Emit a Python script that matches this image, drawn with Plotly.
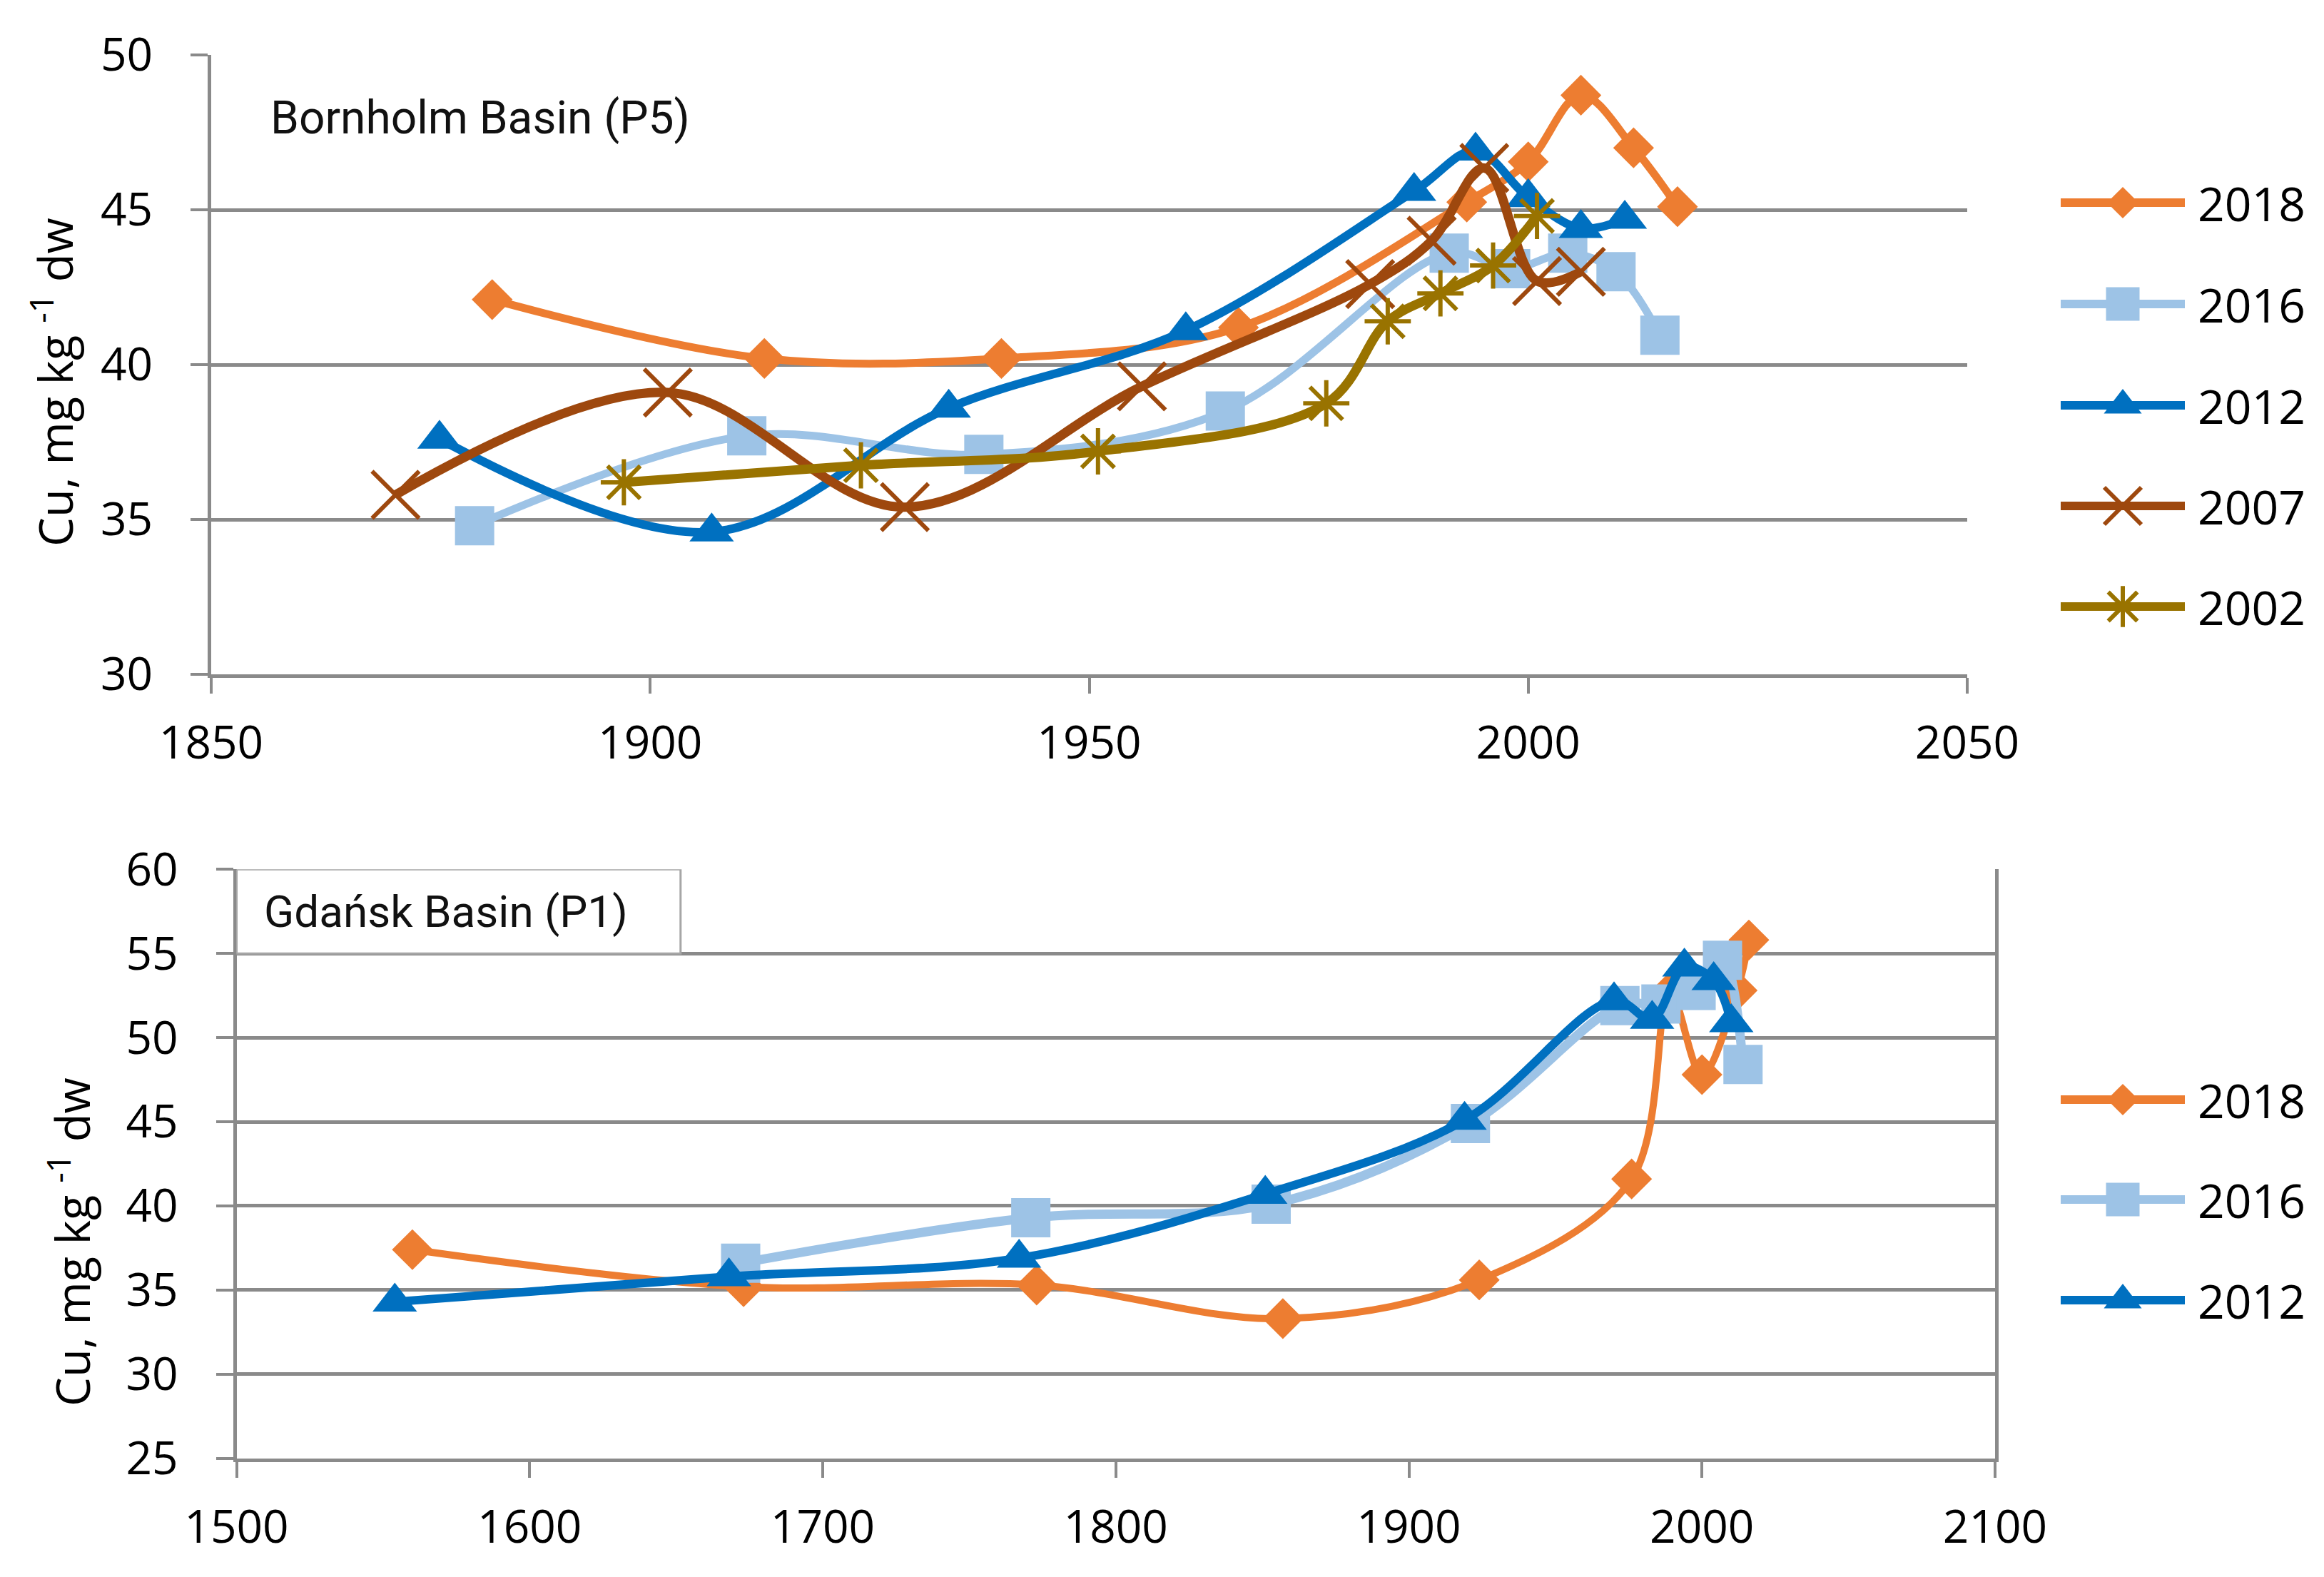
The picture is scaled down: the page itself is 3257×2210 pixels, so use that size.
import plotly.graph_objects as go

W, H = 3257, 2210

# ---------------- Data: Bornholm Basin (P5) ----------------
bb_2018_x = [1882, 1913, 1940, 1967, 1993, 2000, 2006, 2012, 2017]
bb_2018_y = [42.1, 40.2, 40.2, 41.2, 45.25, 46.55, 48.7, 47.0, 45.1]
bb_2016_x = [1880, 1911, 1938, 1965.5, 1991, 1998, 2004.5, 2010, 2015]
bb_2016_y = [34.8, 37.7, 37.1, 38.5, 43.6, 43.1, 43.6, 43.0, 40.95]
bb_2012_x = [1876, 1907, 1934, 1961, 1987, 1994, 2000, 2006, 2011]
bb_2012_y = [37.6, 34.6, 38.6, 41.1, 45.6, 46.9, 45.4, 44.4, 44.7]
bb_2007_x = [1871, 1902, 1929, 1956, 1982, 1989, 1995, 2001, 2006]
bb_2007_y = [35.8, 39.1, 35.4, 39.3, 42.6, 44.0, 46.35, 42.7, 43.0]
bb_2002_x = [1897, 1924, 1951, 1977, 1984, 1990, 1996, 2001]
bb_2002_y = [36.2, 36.75, 37.2, 38.75, 41.4, 42.3, 43.2, 44.8]

# ---------------- Data: Gdańsk Basin (P1) ----------------
gb_2018_x = [1560, 1673, 1773, 1857, 1924, 1976, 1989, 2000, 2012, 2016]
gb_2018_y = [37.4, 35.2, 35.3, 33.3, 35.6, 41.6, 52.7, 47.8, 52.8, 55.8]
gb_2016_x = [1672, 1771, 1853, 1921, 1972, 1986, 1998, 2007, 2014]
gb_2016_y = [36.6, 39.3, 40.1, 44.9, 51.9, 52.0, 52.8, 54.6, 48.4]
gb_2012_x = [1554, 1668, 1767, 1851, 1919, 1970, 1983, 1994, 2004, 2010]
gb_2012_y = [34.3, 35.8, 36.9, 40.7, 45.1, 52.2, 51.1, 54.2, 53.4, 50.9]

top_names = ["2018", "2016", "2012", "2007", "2002"]
bot_names = ["2018", "2016", "2012"]

top_xticks = [1850, 1900, 1950, 2000, 2050]
top_yticks = [30, 35, 40, 45, 50]
bot_xticks = [1500, 1600, 1700, 1800, 1900, 2000, 2100]
bot_yticks = [25, 30, 35, 40, 45, 50, 55, 60]

# ---------------- Styles ----------------
C18 = "#ED7D31"
C16 = "#9DC3E6"
C12 = "#0070C0"
C07 = "#9E480E"
C02 = "#997300"
GRID = "#8A8A8A"
FONT = "Open Sans"

styles = {
    "2018": dict(color=C18, symbol="diamond", size=44, mlw=0),
    "2016": dict(color=C16, symbol="square", size=55, mlw=0),
    "2012": dict(color=C12, symbol="triangle-up", size=54, mlw=0),
    "2007": dict(color=C07, symbol="x-thin-open", size=66, mlw=6),
    "2002": dict(color=C02, symbol="asterisk-open", size=54, mlw=6),
}

fig = go.Figure()


def add_series(x, y, name, lw, xa, ya):
    s = styles[name]
    fig.add_trace(go.Scatter(
        x=x, y=y, mode="lines+markers", name=name, showlegend=False,
        line=dict(color=s["color"], width=lw, shape="spline", smoothing=1.0),
        marker=dict(symbol=s["symbol"], size=s["size"], color=s["color"],
                    line=dict(color=s["color"], width=s["mlw"])),
        xaxis=xa, yaxis=ya, cliponaxis=False))


top_data = {
    "2018": (bb_2018_x, bb_2018_y), "2016": (bb_2016_x, bb_2016_y),
    "2012": (bb_2012_x, bb_2012_y), "2007": (bb_2007_x, bb_2007_y),
    "2002": (bb_2002_x, bb_2002_y),
}
top_lw = {"2018": 11, "2016": 11, "2012": 12, "2007": 13, "2002": 13}
for n in top_names:
    add_series(*top_data[n], n, top_lw[n], "x", "y")

bot_data = {"2018": (gb_2018_x, gb_2018_y), "2016": (gb_2016_x, gb_2016_y),
            "2012": (gb_2012_x, gb_2012_y)}
bot_lw = {"2018": 10, "2016": 13, "2012": 12}
for n in bot_names:
    add_series(*bot_data[n], n, bot_lw[n], "x2", "y2")

# ---------------- Custom legends (pixel overlay axis) ----------------
LX0, LX1, LTX = 2880, 3054, 3070
top_rows = [276, 418, 560, 701, 842]
bot_rows = [1533, 1673, 1814]
legend_marker_size = {"2018": 34, "2016": 47, "2012": 46, "2007": 52, "2002": 48}
annotations = []
for names, rows in ((top_names, top_rows), (bot_names, bot_rows)):
    for n, ry in zip(names, rows):
        s = styles[n]
        fig.add_trace(go.Scatter(x=[LX0, LX1], y=[ry, ry], mode="lines",
                                 line=dict(color=s["color"], width=12),
                                 xaxis="x3", yaxis="y3", showlegend=False, hoverinfo="skip"))
        fig.add_trace(go.Scatter(x=[(LX0 + LX1) / 2], y=[ry], mode="markers",
                                 marker=dict(symbol=s["symbol"], size=legend_marker_size[n],
                                             color=s["color"],
                                             line=dict(color=s["color"], width=s["mlw"])),
                                 xaxis="x3", yaxis="y3", showlegend=False, hoverinfo="skip"))
        annotations.append(dict(x=LTX, y=ry, xref="x3", yref="y3", text=n, showarrow=False,
                                xanchor="left", yanchor="middle",
                                font=dict(family=FONT, size=66, color="black")))

# ---------------- Titles ----------------
annotations.append(dict(x=1856.6, y=47.95, xref="x", yref="y", text="Bornholm Basin (P5)",
                        showarrow=False, xanchor="left", yanchor="middle",
                        font=dict(family="Roboto", size=64, color="#111111")))
annotations.append(dict(x=1509.0, y=57.5, xref="x2", yref="y2", text="Gdańsk Basin (P1)",
                        showarrow=False, xanchor="left", yanchor="middle",
                        font=dict(family="Roboto", size=62, color="#111111")))
annotations.append(dict(x=65 / W, y=1 - 528 / H, xref="paper", yref="paper",
                        text="Cu, mg kg <sup>-1</sup> dw", textangle=-90, showarrow=False,
                        xanchor="center", yanchor="middle",
                        font=dict(family=FONT, size=65, color="black")))
annotations.append(dict(x=89 / W, y=1 - 1733 / H, xref="paper", yref="paper",
                        text="Cu, mg kg <sup>-1</sup> dw", textangle=-90, showarrow=False,
                        xanchor="center", yanchor="middle",
                        font=dict(family=FONT, size=65, color="black")))

shapes = [dict(type="rect", xref="x2", yref="y2", x0=1500, x1=1651.5, y0=55, y1=60,
               line=dict(color="#A6A6A6", width=3), fillcolor="white", layer="above")]

tickfont = dict(family=FONT, size=64, color="black")
common_x = dict(showline=True, linecolor=GRID, linewidth=5, ticks="outside", ticklen=22,
                tickwidth=4, tickcolor=GRID, showgrid=False, zeroline=False,
                tickfont=tickfont, ticklabelstandoff=14, automargin=False)
common_y = dict(showline=True, linecolor=GRID, linewidth=5, ticks="outside", ticklen=24,
                tickwidth=4, tickcolor=GRID, showgrid=True, gridcolor=GRID, gridwidth=5,
                zeroline=False, tickfont=tickfont, ticklabelstandoff=40, automargin=False)

fig.update_layout(
    width=W, height=H, autosize=False,
    margin=dict(l=0, r=0, t=0, b=0, pad=0),
    paper_bgcolor="white", plot_bgcolor="rgba(0,0,0,0)",
    showlegend=False,
    xaxis=dict(domain=[288 / W, 2749 / W], range=[1850, 2050], tickvals=top_xticks,
               anchor="y", **common_x),
    yaxis=dict(domain=[1 - 937 / H, 1 - 69 / H], range=[30, 50], tickvals=top_yticks,
               anchor="x", **common_y),
    xaxis2=dict(domain=[323.5 / W, 2788 / W], range=[1500, 2100], tickvals=bot_xticks,
                anchor="y2", **common_x),
    yaxis2=dict(domain=[1 - 2035.7 / H, 1 - 1210.3 / H], range=[25, 60], tickvals=bot_yticks,
                anchor="x2", mirror=True, **common_y),
    xaxis3=dict(domain=[0, 1], range=[0, W], visible=False, anchor="y3", fixedrange=True,
                automargin=False),
    yaxis3=dict(domain=[0, 1], range=[H, 0], visible=False, anchor="x3", fixedrange=True,
                automargin=False),
    annotations=annotations,
    shapes=shapes,
)

fig.write_html("out.html")
